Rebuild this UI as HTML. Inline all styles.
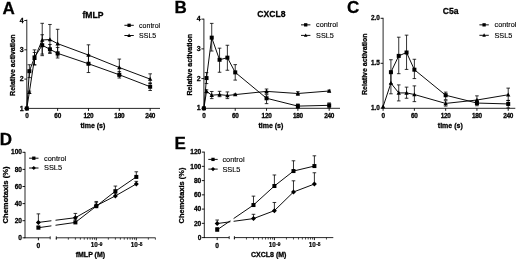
<!DOCTYPE html>
<html><head><meta charset="utf-8"><style>
html,body{margin:0;padding:0;background:#fff;}
body{width:520px;height:259px;overflow:hidden;}
svg{display:block;filter:blur(0.38px);font-family:"Liberation Sans",sans-serif;}
</style></head><body>
<svg width="520" height="259" viewBox="0 0 520 259">
<rect width="520" height="259" fill="#fff"/>
<text x="2.40" y="14.20" font-size="17" font-weight="bold" text-anchor="start" stroke="#000" stroke-width="0.28">A</text>
<text x="93.00" y="17.90" font-size="8.6" font-weight="bold" text-anchor="middle" stroke="#000" stroke-width="0.28">fMLP</text>
<line x1="26.80" y1="108.80" x2="26.80" y2="19.60" stroke="#000" stroke-width="0.85"/>
<line x1="26.40" y1="108.40" x2="160.00" y2="108.40" stroke="#000" stroke-width="0.85"/>
<line x1="24.30" y1="108.40" x2="26.80" y2="108.40" stroke="#000" stroke-width="0.9"/>
<text x="23.60" y="110.57" font-size="7" font-weight="bold" text-anchor="end" stroke="#000" stroke-width="0.28">1</text>
<line x1="24.30" y1="79.10" x2="26.80" y2="79.10" stroke="#000" stroke-width="0.9"/>
<text x="23.60" y="81.27" font-size="7" font-weight="bold" text-anchor="end" stroke="#000" stroke-width="0.28">2</text>
<line x1="24.30" y1="49.80" x2="26.80" y2="49.80" stroke="#000" stroke-width="0.9"/>
<text x="23.60" y="51.97" font-size="7" font-weight="bold" text-anchor="end" stroke="#000" stroke-width="0.28">3</text>
<line x1="24.30" y1="20.50" x2="26.80" y2="20.50" stroke="#000" stroke-width="0.9"/>
<text x="23.60" y="22.67" font-size="7" font-weight="bold" text-anchor="end" stroke="#000" stroke-width="0.28">4</text>
<line x1="26.80" y1="108.40" x2="26.80" y2="110.90" stroke="#000" stroke-width="0.9"/>
<text x="26.80" y="118.40" font-size="6.4" font-weight="bold" text-anchor="middle" letter-spacing="-0.25" stroke="#000" stroke-width="0.28">0</text>
<line x1="57.64" y1="108.40" x2="57.64" y2="110.90" stroke="#000" stroke-width="0.9"/>
<text x="57.64" y="118.40" font-size="6.4" font-weight="bold" text-anchor="middle" letter-spacing="-0.25" stroke="#000" stroke-width="0.28">60</text>
<line x1="88.48" y1="108.40" x2="88.48" y2="110.90" stroke="#000" stroke-width="0.9"/>
<text x="88.48" y="118.40" font-size="6.4" font-weight="bold" text-anchor="middle" letter-spacing="-0.25" stroke="#000" stroke-width="0.28">120</text>
<line x1="119.32" y1="108.40" x2="119.32" y2="110.90" stroke="#000" stroke-width="0.9"/>
<text x="119.32" y="118.40" font-size="6.4" font-weight="bold" text-anchor="middle" letter-spacing="-0.25" stroke="#000" stroke-width="0.28">180</text>
<line x1="150.16" y1="108.40" x2="150.16" y2="110.90" stroke="#000" stroke-width="0.9"/>
<text x="150.16" y="118.40" font-size="6.4" font-weight="bold" text-anchor="middle" letter-spacing="-0.25" stroke="#000" stroke-width="0.28">240</text>
<text x="92.90" y="127.80" font-size="7" font-weight="bold" text-anchor="middle" stroke="#000" stroke-width="0.28">time (s)</text>
<text x="14.90" y="65.20" font-size="7" font-weight="bold" text-anchor="middle" transform="rotate(-90 14.90 65.20)" stroke="#000" stroke-width="0.28">Relative activation</text>
<polyline points="26.80,108.40 29.37,71.19 34.51,57.42 42.22,45.20 49.93,49.30 57.64,53.32 88.48,63.75 119.32,74.79 150.16,86.72" fill="none" stroke="#000" stroke-width="0.95"/>
<rect x="24.80" y="106.40" width="4.00" height="4.00" fill="#000"/>
<line x1="29.37" y1="64.74" x2="29.37" y2="77.64" stroke="#000" stroke-width="0.8"/>
<line x1="27.57" y1="64.74" x2="31.17" y2="64.74" stroke="#000" stroke-width="0.8"/>
<line x1="27.57" y1="77.64" x2="31.17" y2="77.64" stroke="#000" stroke-width="0.8"/>
<rect x="27.37" y="69.19" width="4.00" height="4.00" fill="#000"/>
<line x1="34.51" y1="49.86" x2="34.51" y2="64.98" stroke="#000" stroke-width="0.8"/>
<line x1="32.71" y1="49.86" x2="36.31" y2="49.86" stroke="#000" stroke-width="0.8"/>
<line x1="32.71" y1="64.98" x2="36.31" y2="64.98" stroke="#000" stroke-width="0.8"/>
<rect x="32.51" y="55.42" width="4.00" height="4.00" fill="#000"/>
<line x1="42.22" y1="34.74" x2="42.22" y2="55.66" stroke="#000" stroke-width="0.8"/>
<line x1="40.42" y1="34.74" x2="44.02" y2="34.74" stroke="#000" stroke-width="0.8"/>
<line x1="40.42" y1="55.66" x2="44.02" y2="55.66" stroke="#000" stroke-width="0.8"/>
<rect x="40.22" y="43.20" width="4.00" height="4.00" fill="#000"/>
<line x1="49.93" y1="44.47" x2="49.93" y2="53.40" stroke="#000" stroke-width="0.8"/>
<line x1="48.13" y1="44.47" x2="51.73" y2="44.47" stroke="#000" stroke-width="0.8"/>
<line x1="48.13" y1="53.40" x2="51.73" y2="53.40" stroke="#000" stroke-width="0.8"/>
<rect x="47.93" y="47.30" width="4.00" height="4.00" fill="#000"/>
<line x1="57.64" y1="47.46" x2="57.64" y2="58.00" stroke="#000" stroke-width="0.8"/>
<line x1="55.84" y1="47.46" x2="59.44" y2="47.46" stroke="#000" stroke-width="0.8"/>
<line x1="55.84" y1="58.00" x2="59.44" y2="58.00" stroke="#000" stroke-width="0.8"/>
<rect x="55.64" y="51.32" width="4.00" height="4.00" fill="#000"/>
<line x1="88.48" y1="54.96" x2="88.48" y2="72.54" stroke="#000" stroke-width="0.8"/>
<line x1="86.68" y1="54.96" x2="90.28" y2="54.96" stroke="#000" stroke-width="0.8"/>
<line x1="86.68" y1="72.54" x2="90.28" y2="72.54" stroke="#000" stroke-width="0.8"/>
<rect x="86.48" y="61.75" width="4.00" height="4.00" fill="#000"/>
<line x1="119.32" y1="71.57" x2="119.32" y2="78.02" stroke="#000" stroke-width="0.8"/>
<line x1="117.52" y1="71.57" x2="121.12" y2="71.57" stroke="#000" stroke-width="0.8"/>
<line x1="117.52" y1="78.02" x2="121.12" y2="78.02" stroke="#000" stroke-width="0.8"/>
<rect x="117.32" y="72.79" width="4.00" height="4.00" fill="#000"/>
<line x1="150.16" y1="82.91" x2="150.16" y2="90.53" stroke="#000" stroke-width="0.8"/>
<line x1="148.36" y1="82.91" x2="151.96" y2="82.91" stroke="#000" stroke-width="0.8"/>
<line x1="148.36" y1="90.53" x2="151.96" y2="90.53" stroke="#000" stroke-width="0.8"/>
<rect x="148.16" y="84.72" width="4.00" height="4.00" fill="#000"/>
<polyline points="26.80,108.40 29.37,92.28 34.51,58.30 42.22,40.01 49.93,39.55 57.64,43.65 88.48,55.07 119.32,67.50 150.16,79.10" fill="none" stroke="#000" stroke-width="0.95"/>
<polygon points="26.80,106.02 28.96,110.13 24.64,110.13" fill="#000"/>
<line x1="29.37" y1="91.11" x2="29.37" y2="93.46" stroke="#000" stroke-width="0.8"/>
<line x1="27.57" y1="91.11" x2="31.17" y2="91.11" stroke="#000" stroke-width="0.8"/>
<line x1="27.57" y1="93.46" x2="31.17" y2="93.46" stroke="#000" stroke-width="0.8"/>
<polygon points="29.37,89.91 31.53,94.01 27.21,94.01" fill="#000"/>
<line x1="34.51" y1="52.44" x2="34.51" y2="64.74" stroke="#000" stroke-width="0.8"/>
<line x1="32.71" y1="52.44" x2="36.31" y2="52.44" stroke="#000" stroke-width="0.8"/>
<line x1="32.71" y1="64.74" x2="36.31" y2="64.74" stroke="#000" stroke-width="0.8"/>
<polygon points="34.51,55.92 36.67,60.03 32.35,60.03" fill="#000"/>
<line x1="42.22" y1="23.31" x2="42.22" y2="54.08" stroke="#000" stroke-width="0.8"/>
<line x1="40.42" y1="23.31" x2="44.02" y2="23.31" stroke="#000" stroke-width="0.8"/>
<line x1="40.42" y1="54.08" x2="44.02" y2="54.08" stroke="#000" stroke-width="0.8"/>
<polygon points="42.22,37.64 44.38,41.74 40.06,41.74" fill="#000"/>
<line x1="49.93" y1="24.46" x2="49.93" y2="52.73" stroke="#000" stroke-width="0.8"/>
<line x1="48.13" y1="24.46" x2="51.73" y2="24.46" stroke="#000" stroke-width="0.8"/>
<line x1="48.13" y1="52.73" x2="51.73" y2="52.73" stroke="#000" stroke-width="0.8"/>
<polygon points="49.93,37.17 52.09,41.27 47.77,41.27" fill="#000"/>
<line x1="57.64" y1="29.29" x2="57.64" y2="55.95" stroke="#000" stroke-width="0.8"/>
<line x1="55.84" y1="29.29" x2="59.44" y2="29.29" stroke="#000" stroke-width="0.8"/>
<line x1="55.84" y1="55.95" x2="59.44" y2="55.95" stroke="#000" stroke-width="0.8"/>
<polygon points="57.64,41.27 59.80,45.38 55.48,45.38" fill="#000"/>
<line x1="88.48" y1="44.82" x2="88.48" y2="63.86" stroke="#000" stroke-width="0.8"/>
<line x1="86.68" y1="44.82" x2="90.28" y2="44.82" stroke="#000" stroke-width="0.8"/>
<line x1="86.68" y1="63.86" x2="90.28" y2="63.86" stroke="#000" stroke-width="0.8"/>
<polygon points="88.48,52.70 90.64,56.80 86.32,56.80" fill="#000"/>
<line x1="119.32" y1="59.09" x2="119.32" y2="75.91" stroke="#000" stroke-width="0.8"/>
<line x1="117.52" y1="59.09" x2="121.12" y2="59.09" stroke="#000" stroke-width="0.8"/>
<line x1="117.52" y1="75.91" x2="121.12" y2="75.91" stroke="#000" stroke-width="0.8"/>
<polygon points="119.32,65.12 121.48,69.23 117.16,69.23" fill="#000"/>
<line x1="150.16" y1="73.83" x2="150.16" y2="83.50" stroke="#000" stroke-width="0.8"/>
<line x1="148.36" y1="73.83" x2="151.96" y2="73.83" stroke="#000" stroke-width="0.8"/>
<line x1="148.36" y1="83.50" x2="151.96" y2="83.50" stroke="#000" stroke-width="0.8"/>
<polygon points="150.16,76.72 152.32,80.83 148.00,80.83" fill="#000"/>
<line x1="124.40" y1="25.30" x2="133.80" y2="25.30" stroke="#000" stroke-width="0.95"/>
<rect x="127.45" y="23.65" width="3.30" height="3.30" fill="#000"/>
<text x="139.10" y="27.70" font-size="7.0" font-weight="normal" text-anchor="start" stroke="#000" stroke-width="0.12">control</text>
<line x1="124.40" y1="35.50" x2="133.80" y2="35.50" stroke="#000" stroke-width="0.95"/>
<polygon points="129.10,33.54 130.88,36.93 127.32,36.93" fill="#000"/>
<text x="139.10" y="37.90" font-size="7.0" font-weight="normal" text-anchor="start" stroke="#000" stroke-width="0.12">SSL5</text>
<text x="174.50" y="12.80" font-size="17" font-weight="bold" text-anchor="start" stroke="#000" stroke-width="0.28">B</text>
<text x="271.40" y="17.10" font-size="8.6" font-weight="bold" text-anchor="middle" stroke="#000" stroke-width="0.28">CXCL8</text>
<line x1="203.90" y1="108.70" x2="203.90" y2="18.70" stroke="#000" stroke-width="0.85"/>
<line x1="203.50" y1="108.30" x2="340.00" y2="108.30" stroke="#000" stroke-width="0.85"/>
<line x1="201.40" y1="108.30" x2="203.90" y2="108.30" stroke="#000" stroke-width="0.9"/>
<text x="200.70" y="110.47" font-size="7" font-weight="bold" text-anchor="end" stroke="#000" stroke-width="0.28">1</text>
<line x1="201.40" y1="78.58" x2="203.90" y2="78.58" stroke="#000" stroke-width="0.9"/>
<text x="200.70" y="80.75" font-size="7" font-weight="bold" text-anchor="end" stroke="#000" stroke-width="0.28">2</text>
<line x1="201.40" y1="48.86" x2="203.90" y2="48.86" stroke="#000" stroke-width="0.9"/>
<text x="200.70" y="51.03" font-size="7" font-weight="bold" text-anchor="end" stroke="#000" stroke-width="0.28">3</text>
<line x1="201.40" y1="19.14" x2="203.90" y2="19.14" stroke="#000" stroke-width="0.9"/>
<text x="200.70" y="21.31" font-size="7" font-weight="bold" text-anchor="end" stroke="#000" stroke-width="0.28">4</text>
<line x1="203.90" y1="108.30" x2="203.90" y2="110.80" stroke="#000" stroke-width="0.9"/>
<text x="203.90" y="118.30" font-size="6.4" font-weight="bold" text-anchor="middle" letter-spacing="-0.25" stroke="#000" stroke-width="0.28">0</text>
<line x1="235.22" y1="108.30" x2="235.22" y2="110.80" stroke="#000" stroke-width="0.9"/>
<text x="235.22" y="118.30" font-size="6.4" font-weight="bold" text-anchor="middle" letter-spacing="-0.25" stroke="#000" stroke-width="0.28">60</text>
<line x1="266.54" y1="108.30" x2="266.54" y2="110.80" stroke="#000" stroke-width="0.9"/>
<text x="266.54" y="118.30" font-size="6.4" font-weight="bold" text-anchor="middle" letter-spacing="-0.25" stroke="#000" stroke-width="0.28">120</text>
<line x1="297.86" y1="108.30" x2="297.86" y2="110.80" stroke="#000" stroke-width="0.9"/>
<text x="297.86" y="118.30" font-size="6.4" font-weight="bold" text-anchor="middle" letter-spacing="-0.25" stroke="#000" stroke-width="0.28">180</text>
<line x1="329.18" y1="108.30" x2="329.18" y2="110.80" stroke="#000" stroke-width="0.9"/>
<text x="329.18" y="118.30" font-size="6.4" font-weight="bold" text-anchor="middle" letter-spacing="-0.25" stroke="#000" stroke-width="0.28">240</text>
<text x="270.90" y="127.70" font-size="7" font-weight="bold" text-anchor="middle" stroke="#000" stroke-width="0.28">time (s)</text>
<text x="192.30" y="64.70" font-size="7" font-weight="bold" text-anchor="middle" transform="rotate(-90 192.30 64.70)" stroke="#000" stroke-width="0.28">Relative activation</text>
<polyline points="203.90,108.30 206.51,78.07 211.73,37.66 219.56,59.77 227.39,57.66 235.22,72.37 266.54,98.28 297.86,106.10 329.18,105.33" fill="none" stroke="#000" stroke-width="0.95"/>
<rect x="201.90" y="106.30" width="4.00" height="4.00" fill="#000"/>
<line x1="206.51" y1="72.58" x2="206.51" y2="83.57" stroke="#000" stroke-width="0.8"/>
<line x1="204.71" y1="72.58" x2="208.31" y2="72.58" stroke="#000" stroke-width="0.8"/>
<line x1="204.71" y1="83.57" x2="208.31" y2="83.57" stroke="#000" stroke-width="0.8"/>
<rect x="204.51" y="76.07" width="4.00" height="4.00" fill="#000"/>
<line x1="211.73" y1="23.39" x2="211.73" y2="51.03" stroke="#000" stroke-width="0.8"/>
<line x1="209.93" y1="23.39" x2="213.53" y2="23.39" stroke="#000" stroke-width="0.8"/>
<line x1="209.93" y1="51.03" x2="213.53" y2="51.03" stroke="#000" stroke-width="0.8"/>
<rect x="209.73" y="35.66" width="4.00" height="4.00" fill="#000"/>
<line x1="219.56" y1="48.18" x2="219.56" y2="72.25" stroke="#000" stroke-width="0.8"/>
<line x1="217.76" y1="48.18" x2="221.36" y2="48.18" stroke="#000" stroke-width="0.8"/>
<line x1="217.76" y1="72.25" x2="221.36" y2="72.25" stroke="#000" stroke-width="0.8"/>
<rect x="217.56" y="57.77" width="4.00" height="4.00" fill="#000"/>
<line x1="227.39" y1="45.26" x2="227.39" y2="70.26" stroke="#000" stroke-width="0.8"/>
<line x1="225.59" y1="45.26" x2="229.19" y2="45.26" stroke="#000" stroke-width="0.8"/>
<line x1="225.59" y1="70.26" x2="229.19" y2="70.26" stroke="#000" stroke-width="0.8"/>
<rect x="225.39" y="55.66" width="4.00" height="4.00" fill="#000"/>
<line x1="235.22" y1="64.64" x2="235.22" y2="80.10" stroke="#000" stroke-width="0.8"/>
<line x1="233.42" y1="64.64" x2="237.02" y2="64.64" stroke="#000" stroke-width="0.8"/>
<line x1="233.42" y1="80.10" x2="237.02" y2="80.10" stroke="#000" stroke-width="0.8"/>
<rect x="233.22" y="70.37" width="4.00" height="4.00" fill="#000"/>
<line x1="266.54" y1="94.72" x2="266.54" y2="103.63" stroke="#000" stroke-width="0.8"/>
<line x1="264.74" y1="94.72" x2="268.34" y2="94.72" stroke="#000" stroke-width="0.8"/>
<line x1="264.74" y1="103.63" x2="268.34" y2="103.63" stroke="#000" stroke-width="0.8"/>
<rect x="264.54" y="96.28" width="4.00" height="4.00" fill="#000"/>
<line x1="297.86" y1="104.02" x2="297.86" y2="108.18" stroke="#000" stroke-width="0.8"/>
<line x1="296.06" y1="104.02" x2="299.66" y2="104.02" stroke="#000" stroke-width="0.8"/>
<line x1="296.06" y1="108.18" x2="299.66" y2="108.18" stroke="#000" stroke-width="0.8"/>
<rect x="295.86" y="104.10" width="4.00" height="4.00" fill="#000"/>
<line x1="329.18" y1="102.95" x2="329.18" y2="107.71" stroke="#000" stroke-width="0.8"/>
<line x1="327.38" y1="102.95" x2="330.98" y2="102.95" stroke="#000" stroke-width="0.8"/>
<line x1="327.38" y1="107.71" x2="330.98" y2="107.71" stroke="#000" stroke-width="0.8"/>
<rect x="327.18" y="103.33" width="4.00" height="4.00" fill="#000"/>
<polyline points="203.90,108.30 206.51,91.30 211.73,95.19 219.56,94.60 227.39,95.49 235.22,94.60 266.54,91.39 297.86,93.50 329.18,91.00" fill="none" stroke="#000" stroke-width="0.95"/>
<polygon points="203.90,105.92 206.06,110.03 201.74,110.03" fill="#000"/>
<line x1="206.51" y1="89.81" x2="206.51" y2="92.79" stroke="#000" stroke-width="0.8"/>
<line x1="204.71" y1="89.81" x2="208.31" y2="89.81" stroke="#000" stroke-width="0.8"/>
<line x1="204.71" y1="92.79" x2="208.31" y2="92.79" stroke="#000" stroke-width="0.8"/>
<polygon points="206.51,88.92 208.67,93.03 204.35,93.03" fill="#000"/>
<line x1="211.73" y1="91.48" x2="211.73" y2="98.61" stroke="#000" stroke-width="0.8"/>
<line x1="209.93" y1="91.48" x2="213.53" y2="91.48" stroke="#000" stroke-width="0.8"/>
<line x1="209.93" y1="98.61" x2="213.53" y2="98.61" stroke="#000" stroke-width="0.8"/>
<polygon points="211.73,92.82 213.89,96.92 209.57,96.92" fill="#000"/>
<line x1="219.56" y1="91.33" x2="219.56" y2="96.68" stroke="#000" stroke-width="0.8"/>
<line x1="217.76" y1="91.33" x2="221.36" y2="91.33" stroke="#000" stroke-width="0.8"/>
<line x1="217.76" y1="96.68" x2="221.36" y2="96.68" stroke="#000" stroke-width="0.8"/>
<polygon points="219.56,92.22 221.72,96.33 217.40,96.33" fill="#000"/>
<line x1="227.39" y1="91.92" x2="227.39" y2="98.61" stroke="#000" stroke-width="0.8"/>
<line x1="225.59" y1="91.92" x2="229.19" y2="91.92" stroke="#000" stroke-width="0.8"/>
<line x1="225.59" y1="98.61" x2="229.19" y2="98.61" stroke="#000" stroke-width="0.8"/>
<polygon points="227.39,93.11 229.55,97.22 225.23,97.22" fill="#000"/>
<line x1="235.22" y1="94.00" x2="235.22" y2="95.19" stroke="#000" stroke-width="0.8"/>
<line x1="233.42" y1="94.00" x2="237.02" y2="94.00" stroke="#000" stroke-width="0.8"/>
<line x1="233.42" y1="95.19" x2="237.02" y2="95.19" stroke="#000" stroke-width="0.8"/>
<polygon points="235.22,92.22 237.38,96.33 233.06,96.33" fill="#000"/>
<line x1="266.54" y1="89.01" x2="266.54" y2="93.77" stroke="#000" stroke-width="0.8"/>
<line x1="264.74" y1="89.01" x2="268.34" y2="89.01" stroke="#000" stroke-width="0.8"/>
<line x1="264.74" y1="93.77" x2="268.34" y2="93.77" stroke="#000" stroke-width="0.8"/>
<polygon points="266.54,89.01 268.70,93.12 264.38,93.12" fill="#000"/>
<line x1="297.86" y1="91.72" x2="297.86" y2="95.28" stroke="#000" stroke-width="0.8"/>
<line x1="296.06" y1="91.72" x2="299.66" y2="91.72" stroke="#000" stroke-width="0.8"/>
<line x1="296.06" y1="95.28" x2="299.66" y2="95.28" stroke="#000" stroke-width="0.8"/>
<polygon points="297.86,91.12 300.02,95.23 295.70,95.23" fill="#000"/>
<line x1="329.18" y1="90.11" x2="329.18" y2="91.89" stroke="#000" stroke-width="0.8"/>
<line x1="327.38" y1="90.11" x2="330.98" y2="90.11" stroke="#000" stroke-width="0.8"/>
<line x1="327.38" y1="91.89" x2="330.98" y2="91.89" stroke="#000" stroke-width="0.8"/>
<polygon points="329.18,88.63 331.34,92.73 327.02,92.73" fill="#000"/>
<line x1="301.00" y1="24.85" x2="310.40" y2="24.85" stroke="#000" stroke-width="0.95"/>
<rect x="304.05" y="23.20" width="3.30" height="3.30" fill="#000"/>
<text x="316.10" y="27.25" font-size="7.25" font-weight="normal" text-anchor="start" stroke="#000" stroke-width="0.12">control</text>
<line x1="301.00" y1="35.40" x2="310.40" y2="35.40" stroke="#000" stroke-width="0.95"/>
<polygon points="305.70,33.44 307.48,36.83 303.92,36.83" fill="#000"/>
<text x="316.10" y="37.80" font-size="7.25" font-weight="normal" text-anchor="start" stroke="#000" stroke-width="0.12">SSL5</text>
<text x="346.90" y="13.10" font-size="17" font-weight="bold" text-anchor="start" stroke="#000" stroke-width="0.28">C</text>
<text x="450.60" y="14.40" font-size="8.6" font-weight="bold" text-anchor="middle" stroke="#000" stroke-width="0.28">C5a</text>
<line x1="383.10" y1="108.70" x2="383.10" y2="17.80" stroke="#000" stroke-width="0.85"/>
<line x1="382.70" y1="108.30" x2="515.30" y2="108.30" stroke="#000" stroke-width="0.85"/>
<line x1="380.60" y1="108.30" x2="383.10" y2="108.30" stroke="#000" stroke-width="0.9"/>
<text x="379.90" y="110.28" font-size="6.4" font-weight="bold" text-anchor="end" stroke="#000" stroke-width="0.28">1.0</text>
<line x1="380.60" y1="63.30" x2="383.10" y2="63.30" stroke="#000" stroke-width="0.9"/>
<text x="379.90" y="65.28" font-size="6.4" font-weight="bold" text-anchor="end" stroke="#000" stroke-width="0.28">1.5</text>
<line x1="380.60" y1="18.30" x2="383.10" y2="18.30" stroke="#000" stroke-width="0.9"/>
<text x="379.90" y="20.28" font-size="6.4" font-weight="bold" text-anchor="end" stroke="#000" stroke-width="0.28">2.0</text>
<line x1="383.10" y1="108.30" x2="383.10" y2="110.80" stroke="#000" stroke-width="0.9"/>
<text x="383.10" y="118.30" font-size="6.4" font-weight="bold" text-anchor="middle" letter-spacing="-0.25" stroke="#000" stroke-width="0.28">0</text>
<line x1="414.38" y1="108.30" x2="414.38" y2="110.80" stroke="#000" stroke-width="0.9"/>
<text x="414.38" y="118.30" font-size="6.4" font-weight="bold" text-anchor="middle" letter-spacing="-0.25" stroke="#000" stroke-width="0.28">60</text>
<line x1="445.66" y1="108.30" x2="445.66" y2="110.80" stroke="#000" stroke-width="0.9"/>
<text x="445.66" y="118.30" font-size="6.4" font-weight="bold" text-anchor="middle" letter-spacing="-0.25" stroke="#000" stroke-width="0.28">120</text>
<line x1="476.93" y1="108.30" x2="476.93" y2="110.80" stroke="#000" stroke-width="0.9"/>
<text x="476.93" y="118.30" font-size="6.4" font-weight="bold" text-anchor="middle" letter-spacing="-0.25" stroke="#000" stroke-width="0.28">180</text>
<line x1="508.21" y1="108.30" x2="508.21" y2="110.80" stroke="#000" stroke-width="0.9"/>
<text x="508.21" y="118.30" font-size="6.4" font-weight="bold" text-anchor="middle" letter-spacing="-0.25" stroke="#000" stroke-width="0.28">240</text>
<text x="450.30" y="127.70" font-size="7" font-weight="bold" text-anchor="middle" stroke="#000" stroke-width="0.28">time (s)</text>
<text x="367.10" y="64.25" font-size="7" font-weight="bold" text-anchor="middle" transform="rotate(-90 367.10 64.25)" stroke="#000" stroke-width="0.28">Relative activation</text>
<polyline points="390.92,72.18 398.74,55.89 406.56,52.51 414.38,69.69 445.66,95.23 476.93,103.06 508.21,103.95" fill="none" stroke="#000" stroke-width="0.95"/>
<line x1="390.92" y1="59.72" x2="390.92" y2="83.75" stroke="#000" stroke-width="0.8"/>
<line x1="389.12" y1="59.72" x2="392.72" y2="59.72" stroke="#000" stroke-width="0.8"/>
<line x1="389.12" y1="83.75" x2="392.72" y2="83.75" stroke="#000" stroke-width="0.8"/>
<rect x="388.92" y="70.18" width="4.00" height="4.00" fill="#000"/>
<line x1="398.74" y1="37.20" x2="398.74" y2="73.69" stroke="#000" stroke-width="0.8"/>
<line x1="396.94" y1="37.20" x2="400.54" y2="37.20" stroke="#000" stroke-width="0.8"/>
<line x1="396.94" y1="73.69" x2="400.54" y2="73.69" stroke="#000" stroke-width="0.8"/>
<rect x="396.74" y="53.89" width="4.00" height="4.00" fill="#000"/>
<line x1="406.56" y1="35.15" x2="406.56" y2="69.42" stroke="#000" stroke-width="0.8"/>
<line x1="404.76" y1="35.15" x2="408.36" y2="35.15" stroke="#000" stroke-width="0.8"/>
<line x1="404.76" y1="69.42" x2="408.36" y2="69.42" stroke="#000" stroke-width="0.8"/>
<rect x="404.56" y="50.51" width="4.00" height="4.00" fill="#000"/>
<line x1="414.38" y1="59.27" x2="414.38" y2="78.58" stroke="#000" stroke-width="0.8"/>
<line x1="412.58" y1="59.27" x2="416.18" y2="59.27" stroke="#000" stroke-width="0.8"/>
<line x1="412.58" y1="78.58" x2="416.18" y2="78.58" stroke="#000" stroke-width="0.8"/>
<rect x="412.38" y="67.69" width="4.00" height="4.00" fill="#000"/>
<line x1="445.66" y1="92.11" x2="445.66" y2="99.68" stroke="#000" stroke-width="0.8"/>
<line x1="443.86" y1="92.11" x2="447.46" y2="92.11" stroke="#000" stroke-width="0.8"/>
<line x1="443.86" y1="99.68" x2="447.46" y2="99.68" stroke="#000" stroke-width="0.8"/>
<rect x="443.66" y="93.23" width="4.00" height="4.00" fill="#000"/>
<line x1="476.93" y1="100.39" x2="476.93" y2="105.73" stroke="#000" stroke-width="0.8"/>
<line x1="475.13" y1="100.39" x2="478.73" y2="100.39" stroke="#000" stroke-width="0.8"/>
<line x1="475.13" y1="105.73" x2="478.73" y2="105.73" stroke="#000" stroke-width="0.8"/>
<rect x="474.93" y="101.06" width="4.00" height="4.00" fill="#000"/>
<line x1="508.21" y1="100.39" x2="508.21" y2="107.95" stroke="#000" stroke-width="0.8"/>
<line x1="506.41" y1="100.39" x2="510.01" y2="100.39" stroke="#000" stroke-width="0.8"/>
<line x1="506.41" y1="107.95" x2="510.01" y2="107.95" stroke="#000" stroke-width="0.8"/>
<rect x="506.21" y="101.95" width="4.00" height="4.00" fill="#000"/>
<polyline points="383.10,106.62 390.92,83.12 398.74,92.91 406.56,92.91 414.38,94.52 445.66,103.42 476.93,100.03 508.21,94.78" fill="none" stroke="#000" stroke-width="0.95"/>
<polygon points="383.10,104.24 385.26,108.35 380.94,108.35" fill="#000"/>
<line x1="390.92" y1="72.44" x2="390.92" y2="93.80" stroke="#000" stroke-width="0.8"/>
<line x1="389.12" y1="72.44" x2="392.72" y2="72.44" stroke="#000" stroke-width="0.8"/>
<line x1="389.12" y1="93.80" x2="392.72" y2="93.80" stroke="#000" stroke-width="0.8"/>
<polygon points="390.92,80.75 393.08,84.85 388.76,84.85" fill="#000"/>
<line x1="398.74" y1="84.90" x2="398.74" y2="100.92" stroke="#000" stroke-width="0.8"/>
<line x1="396.94" y1="84.90" x2="400.54" y2="84.90" stroke="#000" stroke-width="0.8"/>
<line x1="396.94" y1="100.92" x2="400.54" y2="100.92" stroke="#000" stroke-width="0.8"/>
<polygon points="398.74,90.54 400.90,94.64 396.58,94.64" fill="#000"/>
<line x1="406.56" y1="87.13" x2="406.56" y2="98.25" stroke="#000" stroke-width="0.8"/>
<line x1="404.76" y1="87.13" x2="408.36" y2="87.13" stroke="#000" stroke-width="0.8"/>
<line x1="404.76" y1="98.25" x2="408.36" y2="98.25" stroke="#000" stroke-width="0.8"/>
<polygon points="406.56,90.54 408.72,94.64 404.40,94.64" fill="#000"/>
<line x1="414.38" y1="85.88" x2="414.38" y2="101.64" stroke="#000" stroke-width="0.8"/>
<line x1="412.58" y1="85.88" x2="416.18" y2="85.88" stroke="#000" stroke-width="0.8"/>
<line x1="412.58" y1="101.64" x2="416.18" y2="101.64" stroke="#000" stroke-width="0.8"/>
<polygon points="414.38,92.14 416.54,96.24 412.22,96.24" fill="#000"/>
<line x1="445.66" y1="100.75" x2="445.66" y2="106.09" stroke="#000" stroke-width="0.8"/>
<line x1="443.86" y1="100.75" x2="447.46" y2="100.75" stroke="#000" stroke-width="0.8"/>
<line x1="443.86" y1="106.09" x2="447.46" y2="106.09" stroke="#000" stroke-width="0.8"/>
<polygon points="445.66,101.04 447.82,105.14 443.50,105.14" fill="#000"/>
<line x1="476.93" y1="95.85" x2="476.93" y2="104.48" stroke="#000" stroke-width="0.8"/>
<line x1="475.13" y1="95.85" x2="478.73" y2="95.85" stroke="#000" stroke-width="0.8"/>
<line x1="475.13" y1="104.48" x2="478.73" y2="104.48" stroke="#000" stroke-width="0.8"/>
<polygon points="476.93,97.66 479.09,101.76 474.77,101.76" fill="#000"/>
<line x1="508.21" y1="88.11" x2="508.21" y2="100.57" stroke="#000" stroke-width="0.8"/>
<line x1="506.41" y1="88.11" x2="510.01" y2="88.11" stroke="#000" stroke-width="0.8"/>
<line x1="506.41" y1="100.57" x2="510.01" y2="100.57" stroke="#000" stroke-width="0.8"/>
<polygon points="508.21,92.41 510.37,96.51 506.05,96.51" fill="#000"/>
<line x1="479.40" y1="24.85" x2="488.80" y2="24.85" stroke="#000" stroke-width="0.95"/>
<rect x="482.45" y="23.20" width="3.30" height="3.30" fill="#000"/>
<text x="494.50" y="27.25" font-size="7.3" font-weight="normal" text-anchor="start" stroke="#000" stroke-width="0.12">control</text>
<line x1="479.40" y1="35.30" x2="488.80" y2="35.30" stroke="#000" stroke-width="0.95"/>
<polygon points="484.10,33.34 485.88,36.73 482.32,36.73" fill="#000"/>
<text x="494.50" y="37.70" font-size="7.3" font-weight="normal" text-anchor="start" stroke="#000" stroke-width="0.12">SSL5</text>
<text x="-0.30" y="145.10" font-size="17" font-weight="bold" text-anchor="start" stroke="#000" stroke-width="0.28">D</text>
<line x1="25.00" y1="238.20" x2="25.00" y2="151.90" stroke="#000" stroke-width="0.85"/>
<line x1="24.60" y1="237.80" x2="50.20" y2="237.80" stroke="#000" stroke-width="0.85"/>
<line x1="56.30" y1="237.80" x2="155.50" y2="237.80" stroke="#000" stroke-width="0.85"/>
<line x1="50.20" y1="236.30" x2="50.20" y2="239.30" stroke="#000" stroke-width="0.8"/>
<line x1="56.30" y1="236.30" x2="56.30" y2="239.30" stroke="#000" stroke-width="0.8"/>
<line x1="22.50" y1="237.80" x2="25.00" y2="237.80" stroke="#000" stroke-width="0.9"/>
<text x="22.00" y="239.98" font-size="6.6" font-weight="bold" text-anchor="end" stroke="#000" stroke-width="0.28">0</text>
<line x1="22.50" y1="220.70" x2="25.00" y2="220.70" stroke="#000" stroke-width="0.9"/>
<text x="22.00" y="222.88" font-size="6.6" font-weight="bold" text-anchor="end" stroke="#000" stroke-width="0.28">20</text>
<line x1="22.50" y1="203.60" x2="25.00" y2="203.60" stroke="#000" stroke-width="0.9"/>
<text x="22.00" y="205.78" font-size="6.6" font-weight="bold" text-anchor="end" stroke="#000" stroke-width="0.28">40</text>
<line x1="22.50" y1="186.50" x2="25.00" y2="186.50" stroke="#000" stroke-width="0.9"/>
<text x="22.00" y="188.68" font-size="6.6" font-weight="bold" text-anchor="end" stroke="#000" stroke-width="0.28">60</text>
<line x1="22.50" y1="169.40" x2="25.00" y2="169.40" stroke="#000" stroke-width="0.9"/>
<text x="22.00" y="171.58" font-size="6.6" font-weight="bold" text-anchor="end" stroke="#000" stroke-width="0.28">80</text>
<line x1="22.50" y1="152.30" x2="25.00" y2="152.30" stroke="#000" stroke-width="0.9"/>
<text x="22.00" y="154.48" font-size="6.6" font-weight="bold" text-anchor="end" stroke="#000" stroke-width="0.28">100</text>
<line x1="38.40" y1="237.80" x2="38.40" y2="240.30" stroke="#000" stroke-width="0.9"/>
<text x="38.40" y="247.70" font-size="6.6" font-weight="bold" text-anchor="middle" stroke="#000" stroke-width="0.28">0</text>
<line x1="56.30" y1="237.80" x2="56.30" y2="239.70" stroke="#000" stroke-width="0.7"/>
<line x1="68.34" y1="237.80" x2="68.34" y2="239.70" stroke="#000" stroke-width="0.7"/>
<line x1="75.38" y1="237.80" x2="75.38" y2="239.70" stroke="#000" stroke-width="0.7"/>
<line x1="80.38" y1="237.80" x2="80.38" y2="239.70" stroke="#000" stroke-width="0.7"/>
<line x1="84.26" y1="237.80" x2="84.26" y2="239.70" stroke="#000" stroke-width="0.7"/>
<line x1="87.43" y1="237.80" x2="87.43" y2="239.70" stroke="#000" stroke-width="0.7"/>
<line x1="90.10" y1="237.80" x2="90.10" y2="239.70" stroke="#000" stroke-width="0.7"/>
<line x1="92.42" y1="237.80" x2="92.42" y2="239.70" stroke="#000" stroke-width="0.7"/>
<line x1="94.47" y1="237.80" x2="94.47" y2="239.70" stroke="#000" stroke-width="0.7"/>
<line x1="96.30" y1="237.80" x2="96.30" y2="240.30" stroke="#000" stroke-width="0.9"/>
<line x1="108.34" y1="237.80" x2="108.34" y2="239.70" stroke="#000" stroke-width="0.7"/>
<line x1="115.38" y1="237.80" x2="115.38" y2="239.70" stroke="#000" stroke-width="0.7"/>
<line x1="120.38" y1="237.80" x2="120.38" y2="239.70" stroke="#000" stroke-width="0.7"/>
<line x1="124.26" y1="237.80" x2="124.26" y2="239.70" stroke="#000" stroke-width="0.7"/>
<line x1="127.43" y1="237.80" x2="127.43" y2="239.70" stroke="#000" stroke-width="0.7"/>
<line x1="130.10" y1="237.80" x2="130.10" y2="239.70" stroke="#000" stroke-width="0.7"/>
<line x1="132.42" y1="237.80" x2="132.42" y2="239.70" stroke="#000" stroke-width="0.7"/>
<line x1="134.47" y1="237.80" x2="134.47" y2="239.70" stroke="#000" stroke-width="0.7"/>
<line x1="136.30" y1="237.80" x2="136.30" y2="240.30" stroke="#000" stroke-width="0.9"/>
<line x1="148.34" y1="237.80" x2="148.34" y2="239.70" stroke="#000" stroke-width="0.7"/>
<line x1="155.38" y1="237.80" x2="155.38" y2="239.70" stroke="#000" stroke-width="0.7"/>
<text x="96.50" y="247.30" font-size="6.3" font-weight="bold" text-anchor="middle" stroke="#000" stroke-width="0.2" letter-spacing="-0.1">10<tspan font-size="4.8" dy="-1.6" dx="0.6">-9</tspan></text>
<text x="136.50" y="247.30" font-size="6.3" font-weight="bold" text-anchor="middle" stroke="#000" stroke-width="0.2" letter-spacing="-0.1">10<tspan font-size="4.8" dy="-1.6" dx="0.6">-8</tspan></text>
<text x="90.40" y="257.20" font-size="7.0" font-weight="bold" text-anchor="middle" stroke="#000" stroke-width="0.28">fMLP (M)</text>
<text x="8.30" y="195.00" font-size="7.6" font-weight="bold" text-anchor="middle" transform="rotate(-90 8.30 195.00)" stroke="#000" stroke-width="0.28">Chemotaxis (%)</text>
<line x1="38.40" y1="227.71" x2="51.40" y2="225.85" stroke="#000" stroke-width="0.95"/>
<line x1="55.50" y1="225.26" x2="75.38" y2="222.41" stroke="#000" stroke-width="0.95"/>
<polyline points="75.38,222.41 96.30,206.17 115.38,191.20 136.30,176.92" fill="none" stroke="#000" stroke-width="0.95"/>
<line x1="38.40" y1="227.71" x2="38.40" y2="226.00" stroke="#000" stroke-width="0.8"/>
<line x1="36.60" y1="226.00" x2="40.20" y2="226.00" stroke="#000" stroke-width="0.8"/>
<rect x="36.40" y="225.71" width="4.00" height="4.00" fill="#000"/>
<line x1="75.38" y1="222.41" x2="75.38" y2="219.85" stroke="#000" stroke-width="0.8"/>
<line x1="73.58" y1="219.85" x2="77.18" y2="219.85" stroke="#000" stroke-width="0.8"/>
<rect x="73.38" y="220.41" width="4.00" height="4.00" fill="#000"/>
<line x1="96.30" y1="206.17" x2="96.30" y2="202.75" stroke="#000" stroke-width="0.8"/>
<line x1="94.50" y1="202.75" x2="98.10" y2="202.75" stroke="#000" stroke-width="0.8"/>
<rect x="94.30" y="204.17" width="4.00" height="4.00" fill="#000"/>
<line x1="115.38" y1="191.20" x2="115.38" y2="186.07" stroke="#000" stroke-width="0.8"/>
<line x1="113.58" y1="186.07" x2="117.18" y2="186.07" stroke="#000" stroke-width="0.8"/>
<rect x="113.38" y="189.20" width="4.00" height="4.00" fill="#000"/>
<line x1="136.30" y1="176.92" x2="136.30" y2="171.79" stroke="#000" stroke-width="0.8"/>
<line x1="134.50" y1="171.79" x2="138.10" y2="171.79" stroke="#000" stroke-width="0.8"/>
<rect x="134.30" y="174.92" width="4.00" height="4.00" fill="#000"/>
<line x1="38.40" y1="222.41" x2="51.40" y2="220.76" stroke="#000" stroke-width="0.95"/>
<line x1="55.50" y1="220.24" x2="75.38" y2="217.71" stroke="#000" stroke-width="0.95"/>
<polyline points="75.38,217.71 96.30,205.74 115.38,195.91 136.30,183.94" fill="none" stroke="#000" stroke-width="0.95"/>
<line x1="38.40" y1="222.41" x2="38.40" y2="213.86" stroke="#000" stroke-width="0.8"/>
<line x1="36.60" y1="213.86" x2="40.20" y2="213.86" stroke="#000" stroke-width="0.8"/>
<polygon points="38.40,219.91 40.90,222.41 38.40,224.91 35.90,222.41" fill="#000"/>
<line x1="75.38" y1="217.71" x2="75.38" y2="213.43" stroke="#000" stroke-width="0.8"/>
<line x1="73.58" y1="213.43" x2="77.18" y2="213.43" stroke="#000" stroke-width="0.8"/>
<polygon points="75.38,215.21 77.88,217.71 75.38,220.21 72.88,217.71" fill="#000"/>
<line x1="96.30" y1="205.74" x2="96.30" y2="201.46" stroke="#000" stroke-width="0.8"/>
<line x1="94.50" y1="201.46" x2="98.10" y2="201.46" stroke="#000" stroke-width="0.8"/>
<polygon points="96.30,203.24 98.80,205.74 96.30,208.24 93.80,205.74" fill="#000"/>
<line x1="115.38" y1="195.91" x2="115.38" y2="193.34" stroke="#000" stroke-width="0.8"/>
<line x1="113.58" y1="193.34" x2="117.18" y2="193.34" stroke="#000" stroke-width="0.8"/>
<polygon points="115.38,193.41 117.88,195.91 115.38,198.41 112.88,195.91" fill="#000"/>
<line x1="136.30" y1="183.94" x2="136.30" y2="181.37" stroke="#000" stroke-width="0.8"/>
<line x1="134.50" y1="181.37" x2="138.10" y2="181.37" stroke="#000" stroke-width="0.8"/>
<polygon points="136.30,181.44 138.80,183.94 136.30,186.44 133.80,183.94" fill="#000"/>
<line x1="29.10" y1="158.20" x2="38.50" y2="158.20" stroke="#000" stroke-width="0.95"/>
<rect x="32.15" y="156.55" width="3.30" height="3.30" fill="#000"/>
<text x="44.00" y="160.60" font-size="7.4" font-weight="normal" text-anchor="start" stroke="#000" stroke-width="0.12">control</text>
<line x1="29.10" y1="168.00" x2="38.50" y2="168.00" stroke="#000" stroke-width="0.95"/>
<polygon points="33.80,165.94 35.86,168.00 33.80,170.06 31.74,168.00" fill="#000"/>
<text x="44.00" y="170.40" font-size="7.4" font-weight="normal" text-anchor="start" stroke="#000" stroke-width="0.12">SSL5</text>
<text x="174.40" y="148.50" font-size="17" font-weight="bold" text-anchor="start" stroke="#000" stroke-width="0.28">E</text>
<line x1="204.30" y1="238.00" x2="204.30" y2="151.70" stroke="#000" stroke-width="0.85"/>
<line x1="203.90" y1="237.60" x2="229.20" y2="237.60" stroke="#000" stroke-width="0.85"/>
<line x1="234.40" y1="237.60" x2="333.30" y2="237.60" stroke="#000" stroke-width="0.85"/>
<line x1="229.20" y1="236.10" x2="229.20" y2="239.10" stroke="#000" stroke-width="0.8"/>
<line x1="234.40" y1="236.10" x2="234.40" y2="239.10" stroke="#000" stroke-width="0.8"/>
<line x1="201.80" y1="237.60" x2="204.30" y2="237.60" stroke="#000" stroke-width="0.9"/>
<text x="201.30" y="239.78" font-size="6.6" font-weight="bold" text-anchor="end" stroke="#000" stroke-width="0.28">0</text>
<line x1="201.80" y1="223.35" x2="204.30" y2="223.35" stroke="#000" stroke-width="0.9"/>
<text x="201.30" y="225.53" font-size="6.6" font-weight="bold" text-anchor="end" stroke="#000" stroke-width="0.28">20</text>
<line x1="201.80" y1="209.10" x2="204.30" y2="209.10" stroke="#000" stroke-width="0.9"/>
<text x="201.30" y="211.28" font-size="6.6" font-weight="bold" text-anchor="end" stroke="#000" stroke-width="0.28">40</text>
<line x1="201.80" y1="194.85" x2="204.30" y2="194.85" stroke="#000" stroke-width="0.9"/>
<text x="201.30" y="197.03" font-size="6.6" font-weight="bold" text-anchor="end" stroke="#000" stroke-width="0.28">60</text>
<line x1="201.80" y1="180.60" x2="204.30" y2="180.60" stroke="#000" stroke-width="0.9"/>
<text x="201.30" y="182.78" font-size="6.6" font-weight="bold" text-anchor="end" stroke="#000" stroke-width="0.28">80</text>
<line x1="201.80" y1="166.35" x2="204.30" y2="166.35" stroke="#000" stroke-width="0.9"/>
<text x="201.30" y="168.53" font-size="6.6" font-weight="bold" text-anchor="end" stroke="#000" stroke-width="0.28">100</text>
<line x1="201.80" y1="152.10" x2="204.30" y2="152.10" stroke="#000" stroke-width="0.9"/>
<text x="201.30" y="154.28" font-size="6.6" font-weight="bold" text-anchor="end" stroke="#000" stroke-width="0.28">120</text>
<line x1="217.20" y1="237.60" x2="217.20" y2="240.10" stroke="#000" stroke-width="0.9"/>
<text x="217.20" y="247.50" font-size="6.6" font-weight="bold" text-anchor="middle" stroke="#000" stroke-width="0.28">0</text>
<line x1="234.40" y1="237.60" x2="234.40" y2="239.50" stroke="#000" stroke-width="0.7"/>
<line x1="246.44" y1="237.60" x2="246.44" y2="239.50" stroke="#000" stroke-width="0.7"/>
<line x1="253.48" y1="237.60" x2="253.48" y2="239.50" stroke="#000" stroke-width="0.7"/>
<line x1="258.48" y1="237.60" x2="258.48" y2="239.50" stroke="#000" stroke-width="0.7"/>
<line x1="262.36" y1="237.60" x2="262.36" y2="239.50" stroke="#000" stroke-width="0.7"/>
<line x1="265.53" y1="237.60" x2="265.53" y2="239.50" stroke="#000" stroke-width="0.7"/>
<line x1="268.20" y1="237.60" x2="268.20" y2="239.50" stroke="#000" stroke-width="0.7"/>
<line x1="270.52" y1="237.60" x2="270.52" y2="239.50" stroke="#000" stroke-width="0.7"/>
<line x1="272.57" y1="237.60" x2="272.57" y2="239.50" stroke="#000" stroke-width="0.7"/>
<line x1="274.40" y1="237.60" x2="274.40" y2="240.10" stroke="#000" stroke-width="0.9"/>
<line x1="286.44" y1="237.60" x2="286.44" y2="239.50" stroke="#000" stroke-width="0.7"/>
<line x1="293.48" y1="237.60" x2="293.48" y2="239.50" stroke="#000" stroke-width="0.7"/>
<line x1="298.48" y1="237.60" x2="298.48" y2="239.50" stroke="#000" stroke-width="0.7"/>
<line x1="302.36" y1="237.60" x2="302.36" y2="239.50" stroke="#000" stroke-width="0.7"/>
<line x1="305.53" y1="237.60" x2="305.53" y2="239.50" stroke="#000" stroke-width="0.7"/>
<line x1="308.20" y1="237.60" x2="308.20" y2="239.50" stroke="#000" stroke-width="0.7"/>
<line x1="310.52" y1="237.60" x2="310.52" y2="239.50" stroke="#000" stroke-width="0.7"/>
<line x1="312.57" y1="237.60" x2="312.57" y2="239.50" stroke="#000" stroke-width="0.7"/>
<line x1="314.40" y1="237.60" x2="314.40" y2="240.10" stroke="#000" stroke-width="0.9"/>
<line x1="326.44" y1="237.60" x2="326.44" y2="239.50" stroke="#000" stroke-width="0.7"/>
<text x="274.60" y="247.10" font-size="6.3" font-weight="bold" text-anchor="middle" stroke="#000" stroke-width="0.2" letter-spacing="-0.1">10<tspan font-size="4.8" dy="-1.6" dx="0.6">-9</tspan></text>
<text x="314.60" y="247.10" font-size="6.3" font-weight="bold" text-anchor="middle" stroke="#000" stroke-width="0.2" letter-spacing="-0.1">10<tspan font-size="4.8" dy="-1.6" dx="0.6">-8</tspan></text>
<text x="268.70" y="257.00" font-size="7.0" font-weight="bold" text-anchor="middle" stroke="#000" stroke-width="0.28">CXCL8 (M)</text>
<text x="184.30" y="195.50" font-size="7.45" font-weight="bold" text-anchor="middle" transform="rotate(-90 184.30 195.50)" stroke="#000" stroke-width="0.28">Chemotaxis (%)</text>
<line x1="217.20" y1="229.76" x2="230.40" y2="220.77" stroke="#000" stroke-width="0.95"/>
<line x1="233.60" y1="218.59" x2="253.48" y2="205.04" stroke="#000" stroke-width="0.95"/>
<polyline points="253.48,205.04 274.40,186.01 293.48,171.05 314.40,166.06" fill="none" stroke="#000" stroke-width="0.95"/>
<line x1="217.20" y1="229.76" x2="217.20" y2="227.62" stroke="#000" stroke-width="0.8"/>
<line x1="215.40" y1="227.62" x2="219.00" y2="227.62" stroke="#000" stroke-width="0.8"/>
<rect x="215.20" y="227.76" width="4.00" height="4.00" fill="#000"/>
<line x1="253.48" y1="205.04" x2="253.48" y2="196.13" stroke="#000" stroke-width="0.8"/>
<line x1="251.68" y1="196.13" x2="255.28" y2="196.13" stroke="#000" stroke-width="0.8"/>
<rect x="251.48" y="203.04" width="4.00" height="4.00" fill="#000"/>
<line x1="274.40" y1="186.01" x2="274.40" y2="174.97" stroke="#000" stroke-width="0.8"/>
<line x1="272.60" y1="174.97" x2="276.20" y2="174.97" stroke="#000" stroke-width="0.8"/>
<rect x="272.40" y="184.01" width="4.00" height="4.00" fill="#000"/>
<line x1="293.48" y1="171.05" x2="293.48" y2="160.79" stroke="#000" stroke-width="0.8"/>
<line x1="291.68" y1="160.79" x2="295.28" y2="160.79" stroke="#000" stroke-width="0.8"/>
<rect x="291.48" y="169.05" width="4.00" height="4.00" fill="#000"/>
<line x1="314.40" y1="166.06" x2="314.40" y2="155.80" stroke="#000" stroke-width="0.8"/>
<line x1="312.60" y1="155.80" x2="316.20" y2="155.80" stroke="#000" stroke-width="0.8"/>
<rect x="312.40" y="164.06" width="4.00" height="4.00" fill="#000"/>
<line x1="217.20" y1="223.56" x2="230.40" y2="221.75" stroke="#000" stroke-width="0.95"/>
<line x1="233.60" y1="221.31" x2="253.48" y2="218.58" stroke="#000" stroke-width="0.95"/>
<polyline points="253.48,218.58 274.40,210.67 293.48,192.00 314.40,184.02" fill="none" stroke="#000" stroke-width="0.95"/>
<line x1="217.20" y1="223.56" x2="217.20" y2="220.00" stroke="#000" stroke-width="0.8"/>
<line x1="215.40" y1="220.00" x2="219.00" y2="220.00" stroke="#000" stroke-width="0.8"/>
<polygon points="217.20,221.06 219.70,223.56 217.20,226.06 214.70,223.56" fill="#000"/>
<line x1="253.48" y1="218.58" x2="253.48" y2="214.30" stroke="#000" stroke-width="0.8"/>
<line x1="251.68" y1="214.30" x2="255.28" y2="214.30" stroke="#000" stroke-width="0.8"/>
<polygon points="253.48,216.08 255.98,218.58 253.48,221.08 250.98,218.58" fill="#000"/>
<line x1="274.40" y1="210.67" x2="274.40" y2="202.47" stroke="#000" stroke-width="0.8"/>
<line x1="272.60" y1="202.47" x2="276.20" y2="202.47" stroke="#000" stroke-width="0.8"/>
<polygon points="274.40,208.17 276.90,210.67 274.40,213.17 271.90,210.67" fill="#000"/>
<line x1="293.48" y1="192.00" x2="293.48" y2="180.81" stroke="#000" stroke-width="0.8"/>
<line x1="291.68" y1="180.81" x2="295.28" y2="180.81" stroke="#000" stroke-width="0.8"/>
<polygon points="293.48,189.50 295.98,192.00 293.48,194.50 290.98,192.00" fill="#000"/>
<line x1="314.40" y1="184.02" x2="314.40" y2="172.76" stroke="#000" stroke-width="0.8"/>
<line x1="312.60" y1="172.76" x2="316.20" y2="172.76" stroke="#000" stroke-width="0.8"/>
<polygon points="314.40,181.52 316.90,184.02 314.40,186.52 311.90,184.02" fill="#000"/>
<line x1="208.30" y1="159.40" x2="217.70" y2="159.40" stroke="#000" stroke-width="0.95"/>
<rect x="211.35" y="157.75" width="3.30" height="3.30" fill="#000"/>
<text x="222.40" y="161.80" font-size="7.4" font-weight="normal" text-anchor="start" stroke="#000" stroke-width="0.12">control</text>
<line x1="208.30" y1="169.10" x2="217.70" y2="169.10" stroke="#000" stroke-width="0.95"/>
<polygon points="213.00,167.04 215.06,169.10 213.00,171.16 210.94,169.10" fill="#000"/>
<text x="222.40" y="171.50" font-size="7.4" font-weight="normal" text-anchor="start" stroke="#000" stroke-width="0.12">SSL5</text>
</svg>
</body></html>
